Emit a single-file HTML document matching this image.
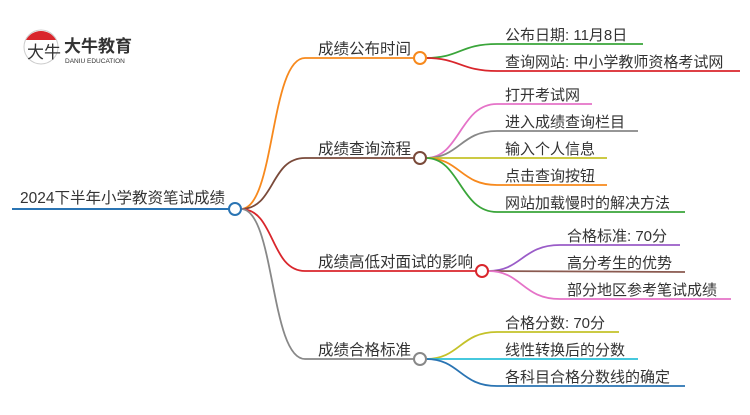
<!DOCTYPE html>
<html><head><meta charset="utf-8"><style>
body{margin:0;background:#fff;}
svg text{font-family:"Liberation Sans","Noto Sans CJK SC",sans-serif;fill:#333;}
</style></head><body>
<svg width="750" height="410" viewBox="0 0 750 410" xmlns="http://www.w3.org/2000/svg">
<circle cx="41" cy="47" r="17" fill="#fff" stroke="#ccc" stroke-width="1"/>
<path d="M26 40 A17 17 0 0 1 56 40 Z" fill="#d9262c"/>
<text x="27" y="58" font-size="17" font-family="Liberation Serif,Noto Serif CJK SC,serif" fill="#222">大牛</text>
<text x="64" y="52" font-size="17" font-weight="bold" fill="#222">大牛教育</text>
<text x="65" y="63" font-size="6.5" fill="#333">DANIU EDUCATION</text>
<line x1="12" y1="209" x2="229" y2="209" stroke="#2a74b3" stroke-width="2"/>
<text x="20" y="203" font-size="15.5">2024下半年小学教资笔试成绩</text>
<g fill="none" stroke-width="1.8">
<path d="M241 209 C275 209 270 58 305 58 L414 58" stroke="#f7891d"/>
<path d="M241 209 C275 209 270 158 305 158 L414 158" stroke="#7a4a3a"/>
<path d="M241 209 C275 209 270 271 305 271 L476 271" stroke="#d9262c"/>
<path d="M241 209 C275 209 270 359 305 359 L414 359" stroke="#888"/>
<path d="M426 58 C460 58 460 44 497 44 L643 44" stroke="#3aa53a"/>
<path d="M426 58 C460 58 460 71 497 71 L740 71" stroke="#d9262c"/>
<path d="M426 158 C460 158 460 104 497 104 L592 104" stroke="#e573c8"/>
<path d="M426 158 C460 158 460 131 497 131 L638 131" stroke="#888"/>
<path d="M426 158 L607 158" stroke="#c4c22a"/>
<path d="M426 158 C460 158 460 185 497 185 L607 185" stroke="#f7891d"/>
<path d="M426 158 C460 158 460 212 497 212 L685 212" stroke="#3aa53a"/>
<path d="M488 271 C522 271 522 245 560 245 L680 245" stroke="#9a5cc8"/>
<path d="M488 271 L685 272" stroke="#8a5a50"/>
<path d="M488 271 C522 271 522 299 560 299 L731 299" stroke="#e573c8"/>
<path d="M426 359 C460 359 460 332 497 332 L619 332" stroke="#c4c22a"/>
<path d="M426 359 L638 359" stroke="#2bc0d8"/>
<path d="M426 359 C460 359 460 386 497 386 L685 386" stroke="#2a74b3"/>
</g>
<circle cx="235" cy="209" r="6" fill="#fff" stroke="#2a74b3" stroke-width="2"/>
<circle cx="420" cy="58" r="6" fill="#fff" stroke="#f7891d" stroke-width="2"/>
<circle cx="420" cy="158" r="6" fill="#fff" stroke="#7a4a3a" stroke-width="2"/>
<circle cx="482" cy="271" r="6" fill="#fff" stroke="#d9262c" stroke-width="2"/>
<circle cx="420" cy="359" r="6" fill="#fff" stroke="#888" stroke-width="2"/>
<g font-size="15.5">
<text x="318" y="54">成绩公布时间</text>
<text x="318" y="154">成绩查询流程</text>
<text x="318" y="267">成绩高低对面试的影响</text>
<text x="318" y="355">成绩合格标准</text>
</g>
<g font-size="15">
<text x="505" y="40">公布日期: 11月8日</text>
<text x="505" y="67">查询网站: 中小学教师资格考试网</text>
<text x="505" y="100">打开考试网</text>
<text x="505" y="127">进入成绩查询栏目</text>
<text x="505" y="154">输入个人信息</text>
<text x="505" y="181">点击查询按钮</text>
<text x="505" y="208">网站加载慢时的解决方法</text>
<text x="567" y="241">合格标准: 70分</text>
<text x="567" y="268">高分考生的优势</text>
<text x="567" y="295">部分地区参考笔试成绩</text>
<text x="505" y="328">合格分数: 70分</text>
<text x="505" y="355">线性转换后的分数</text>
<text x="505" y="382">各科目合格分数线的确定</text>
</g>
</svg>
</body></html>
